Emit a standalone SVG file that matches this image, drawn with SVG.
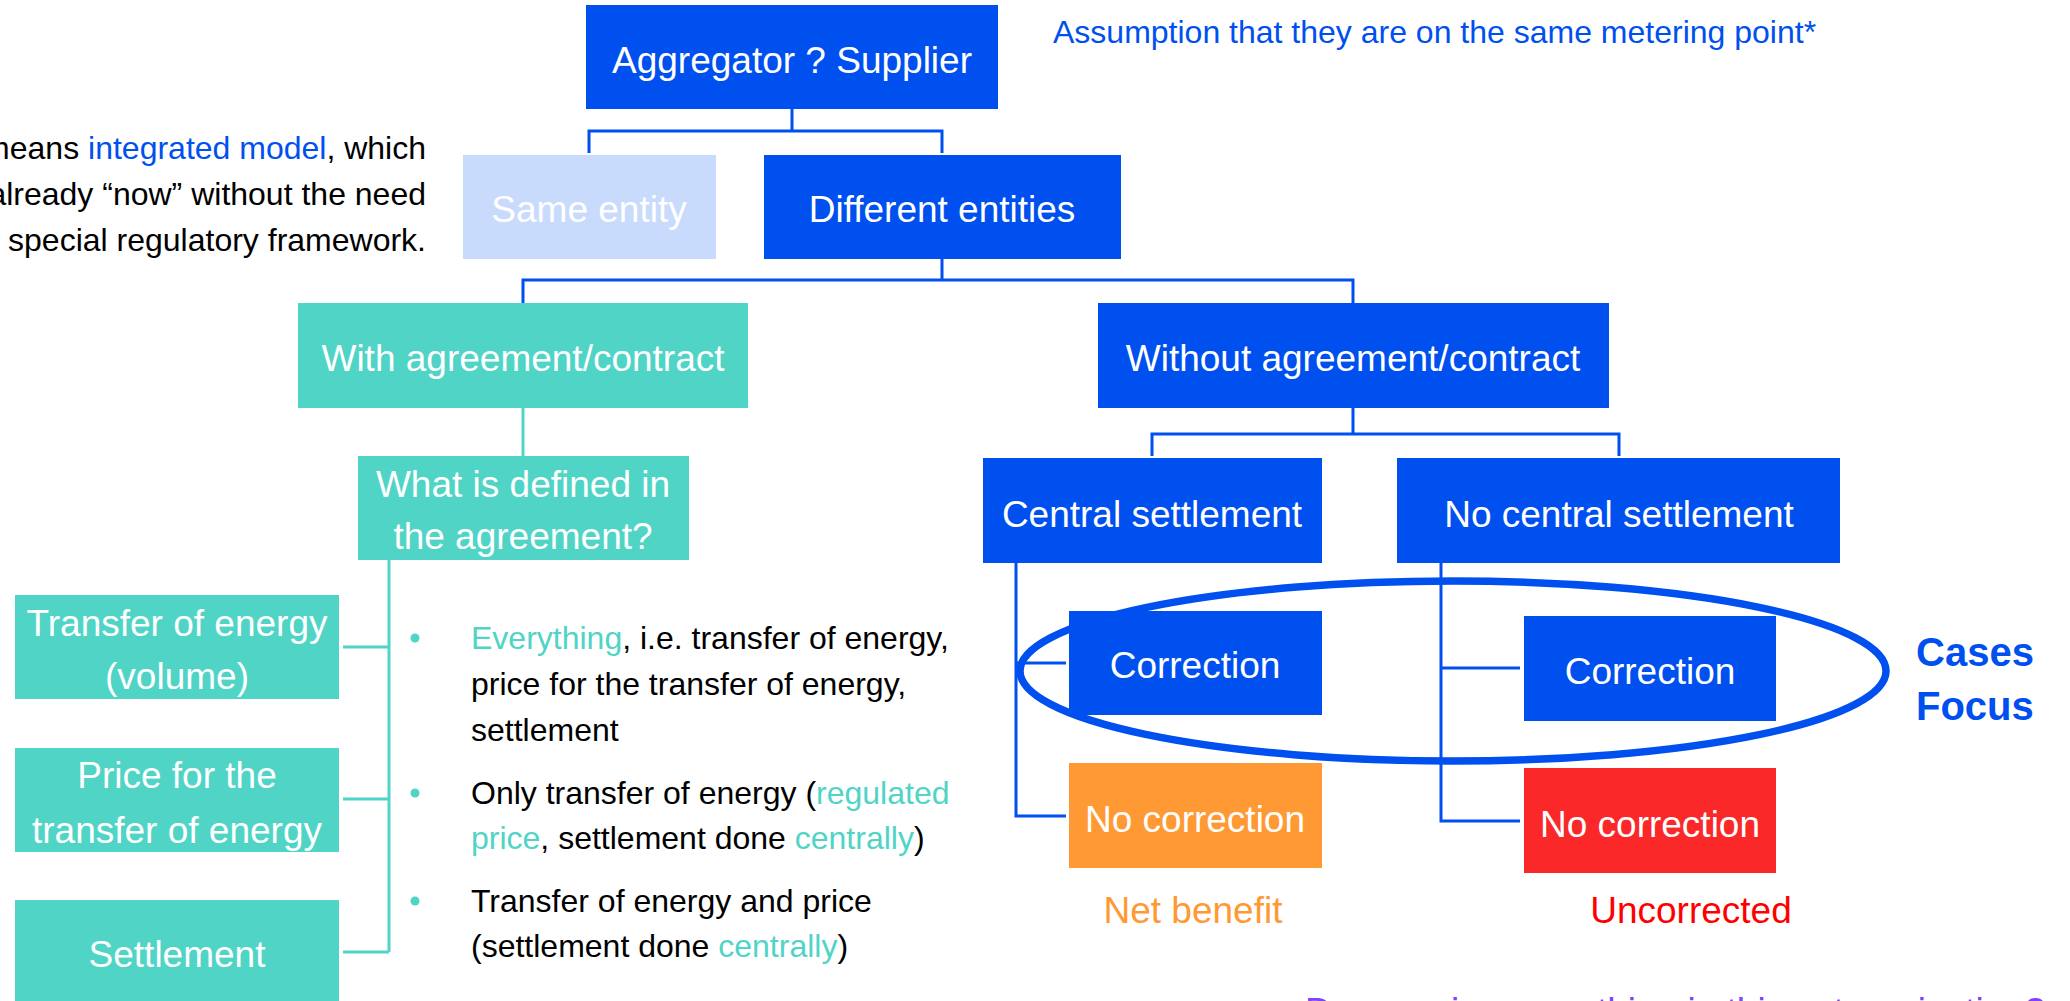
<svg xmlns="http://www.w3.org/2000/svg" width="2070" height="1001" viewBox="0 0 2070 1001">
<style>
text{font-family:"Liberation Sans",Arial,sans-serif}
.nb{fill:#0050EF}
.nt{fill:#50D4C6}
.lbl{fill:#fff;font-size:37px;text-anchor:middle}
.body{fill:#000;font-size:32px}
.tl{fill:#50D4C6}
.cb{fill:none;stroke:#0050EF;stroke-width:3}
.ct{fill:none;stroke:#50D4C6;stroke-width:3}
</style>
<rect width="2070" height="1001" fill="#fff"/>
<g id="connectors">
<path class="cb" d="M589,153 V131 H942 V153 M792,109 V131"/>
<path class="cb" d="M523,303 V280 H1353 V303 M942,259 V280"/>
<path class="cb" d="M1152,456 V434 H1619 V456 M1353,408 V434"/>
<path class="cb" d="M1016,563 V816 H1066 M1016,663 H1066"/>
<path class="cb" d="M1441,563 V821 H1520 M1441,668 H1520"/>
<path class="ct" d="M523,408 V456"/>
<path class="ct" d="M389,560 V952 M343,647 H389 M343,799 H389 M343,952 H389"/>
</g>
<g id="focus-ellipse">
<ellipse cx="1453" cy="671" rx="433" ry="90" fill="none" stroke="#0050EF" stroke-width="7.5"/>
</g>
<g id="aggregator">
<rect class="nb" x="586" y="5" width="412" height="104"/>
<text class="lbl" x="792" y="73">Aggregator ? Supplier</text>
</g>
<g id="same-entity">
<rect x="463" y="155" width="253" height="104" fill="#C9DBFD"/>
<text class="lbl" x="589" y="222">Same entity</text>
</g>
<g id="different-entities">
<rect class="nb" x="764" y="155" width="357" height="104"/>
<text class="lbl" x="942" y="222">Different entities</text>
</g>
<g id="with-agreement">
<rect class="nt" x="298" y="303" width="450" height="105"/>
<text class="lbl" x="523" y="371">With agreement/contract</text>
</g>
<g id="without-agreement">
<rect class="nb" x="1098" y="303" width="511" height="105"/>
<text class="lbl" x="1353" y="371">Without agreement/contract</text>
</g>
<g id="what-defined">
<rect class="nt" x="358" y="456" width="331" height="104"/>
<text class="lbl" x="523" y="497">What is defined in</text>
<text class="lbl" x="523" y="549">the agreement?</text>
</g>
<g id="transfer-energy">
<rect class="nt" x="15" y="595" width="324" height="104"/>
<text class="lbl" x="177" y="636">Transfer of energy</text>
<text class="lbl" x="177" y="689">(volume)</text>
</g>
<g id="price-transfer">
<rect class="nt" x="15" y="748" width="324" height="104"/>
<text class="lbl" x="177" y="788">Price for the</text>
<text class="lbl" x="177" y="843">transfer of energy</text>
</g>
<g id="settlement">
<rect class="nt" x="15" y="900" width="324" height="105"/>
<text class="lbl" x="177" y="967">Settlement</text>
</g>
<g id="central-settlement">
<rect class="nb" x="983" y="458" width="339" height="105"/>
<text class="lbl" x="1152" y="527">Central settlement</text>
</g>
<g id="no-central-settlement">
<rect class="nb" x="1397" y="458" width="443" height="105"/>
<text class="lbl" x="1619" y="527">No central settlement</text>
</g>
<g id="correction-1">
<rect class="nb" x="1069" y="611" width="253" height="104"/>
<text class="lbl" x="1195" y="678">Correction</text>
</g>
<g id="correction-2">
<rect class="nb" x="1524" y="616" width="252" height="105"/>
<text class="lbl" x="1650" y="684">Correction</text>
</g>
<g id="no-correction-1">
<rect x="1069" y="763" width="253" height="105" fill="#FF9933"/>
<text class="lbl" x="1195" y="832">No correction</text>
</g>
<g id="no-correction-2">
<rect x="1524" y="768" width="252" height="105" fill="#FA2828"/>
<text class="lbl" x="1650" y="837">No correction</text>
</g>
<g id="annotations">
<text x="1053" y="43" font-size="32" fill="#0050EF">Assumption that they are on the same metering point*</text>
<text class="body" text-anchor="end" x="426" y="159">means <tspan fill="#0050EF">integrated model</tspan>, which</text>
<text class="body" text-anchor="end" x="426" y="205">already “now” without the need</text>
<text class="body" text-anchor="end" x="426" y="251">y special regulatory framework.</text>
<circle class="nt" cx="415" cy="638" r="4.5"/>
<circle class="nt" cx="415" cy="793" r="4.5"/>
<circle class="nt" cx="415" cy="901" r="4.5"/>
<text class="body" x="471" y="649"><tspan class="tl">Everything</tspan>, i.e. transfer of energy,</text>
<text class="body" x="471" y="695">price for the transfer of energy,</text>
<text class="body" x="471" y="741">settlement</text>
<text class="body" x="471" y="804">Only transfer of energy (<tspan class="tl">regulated</tspan></text>
<text class="body" x="471" y="849"><tspan class="tl">price</tspan>, settlement done <tspan class="tl">centrally</tspan>)</text>
<text class="body" x="471" y="912">Transfer of energy and price</text>
<text class="body" x="471" y="957">(settlement done <tspan class="tl">centrally</tspan>)</text>
<text x="1193" y="923" font-size="37" fill="#FF9933" text-anchor="middle">Net benefit</text>
<text x="1691" y="923" font-size="37" fill="#FF0000" text-anchor="middle">Uncorrected</text>
<text x="1916" y="666" font-size="40" font-weight="bold" fill="#0050EF">Cases</text>
<text x="1916" y="720" font-size="40" font-weight="bold" fill="#0050EF">Focus</text>
<text x="1305" y="1024" font-size="37" fill="#8040FF">Do we miss something in this categorization?</text>
</g>
</svg>
